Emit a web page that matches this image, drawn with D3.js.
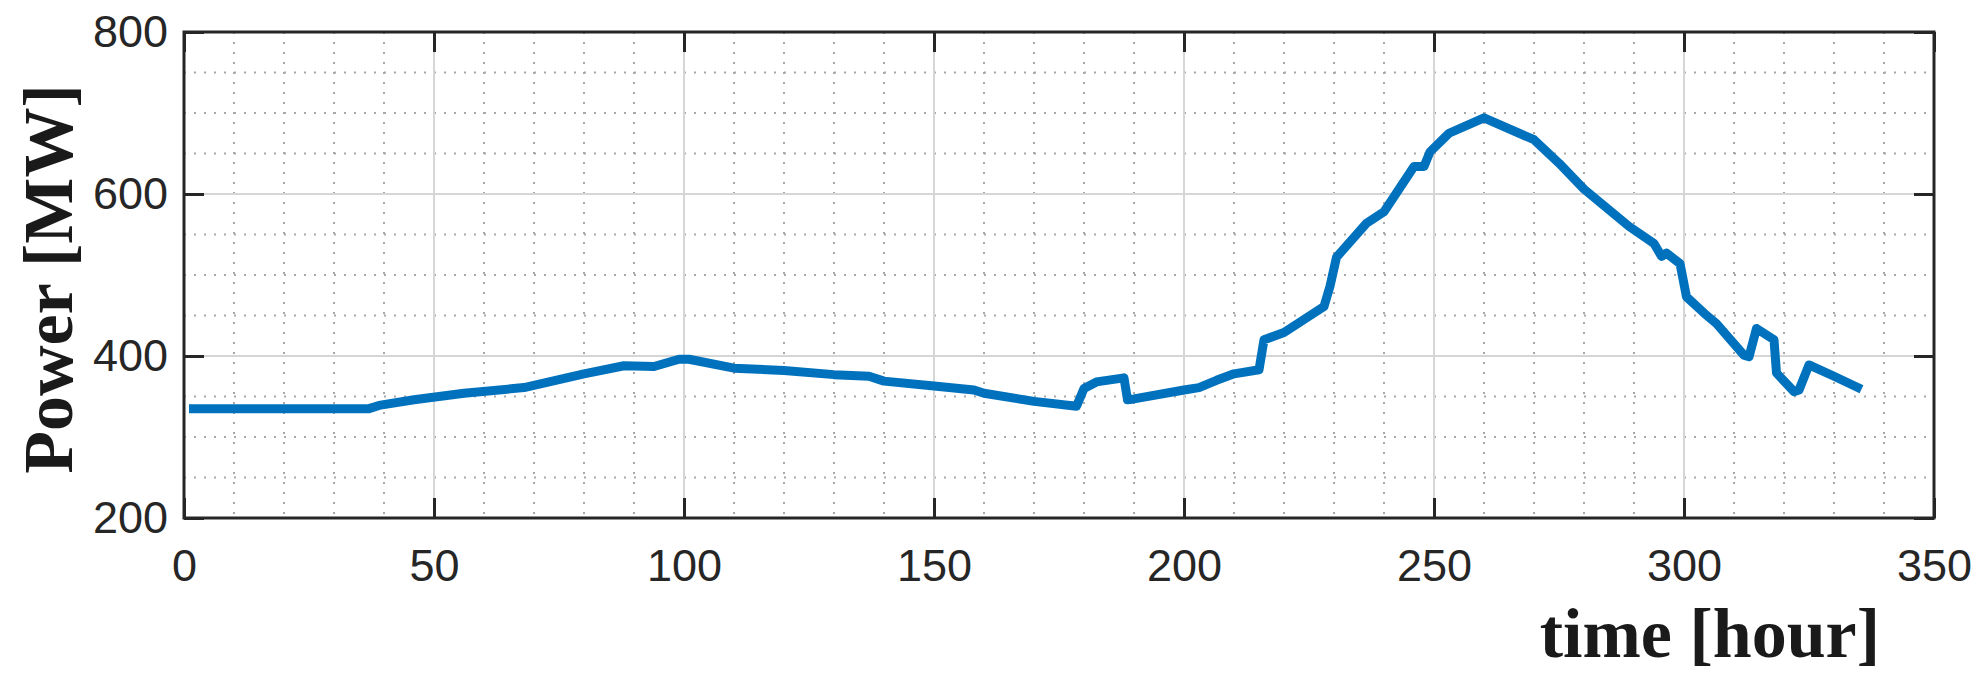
<!DOCTYPE html>
<html>
<head>
<meta charset="utf-8">
<script src="https://cdn.jsdelivr.net/npm/d3@7"></script>
<style>
  body { margin: 0; background: #fff; }
  svg { display: block; }
</style>
</head>
<body>
<svg width="1984" height="684"></svg>
<script>
// data
var hours = [1, 37, 39, 46, 56, 68, 80, 88, 94, 99, 101, 110, 120, 130, 137, 140, 150, 158, 160, 170,
    178.5, 180, 182.5, 188, 188.7, 190, 200, 203, 206.5, 210, 215, 216, 220, 228, 229.2, 230.5,
    236.5, 240, 246, 248, 249.2, 253, 260, 270, 275, 280, 289, 294, 295.5, 296.5, 299.2, 300.5,
    304, 306.5, 312, 313, 314.5, 318, 318.5, 322, 323, 325, 330, 335.5];
var power = [335, 335, 339, 346, 354, 361, 378, 388, 387, 396, 396, 385, 382, 377, 375, 369, 363, 358, 354, 344,
    338, 360, 368, 373, 346, 347, 358, 361, 370, 378, 383, 420, 429, 461, 486, 522,
    564, 578, 634, 634, 652, 675, 694, 667, 638, 606, 560, 539, 523, 527, 514, 473,
    453, 440, 401, 399, 434, 420, 379, 356, 358, 389, 375, 359];

var xTicks = [0, 50, 100, 150, 200, 250, 300, 350];
var yTicks = [200, 400, 600, 800];
var xMinor = d3.range(0, 351, 10);
var yMinor = d3.range(200, 801, 50);

// plot box (note: "top" is taken by window.top, so prefix these)
var svg = d3.select("svg"),
    pLeft = 184, pRight = 1934, pTop = 32, pBottom = 518;

var x = d3.scaleLinear().domain([0, 350]).range([pLeft, pRight]);
var y = d3.scaleLinear().domain([200, 800]).range([pBottom, pTop]);

var axisColor = "#262626";

// minor grid (dotted)
svg.append("g").selectAll("line")
    .data(xMinor.filter(function (d) { return d % 50 != 0; }))
    .enter().append("line")
    .attr("x1", function (d) { return x(d); }).attr("x2", function (d) { return x(d); })
    .attr("y1", pTop).attr("y2", pBottom)
    .attr("stroke", "#a8a8a8").attr("stroke-width", 2).attr("stroke-dasharray", "2,8");
svg.append("g").selectAll("line")
    .data(yMinor.filter(function (d) { return d % 200 != 0; }))
    .enter().append("line")
    .attr("y1", function (d) { return y(d); }).attr("y2", function (d) { return y(d); })
    .attr("x1", pLeft).attr("x2", pRight)
    .attr("stroke", "#a8a8a8").attr("stroke-width", 2).attr("stroke-dasharray", "2,8");

// major grid
svg.append("g").selectAll("line")
    .data(xTicks)
    .enter().append("line")
    .attr("x1", function (d) { return x(d); }).attr("x2", function (d) { return x(d); })
    .attr("y1", pTop).attr("y2", pBottom)
    .attr("stroke", "#d6d6d6").attr("stroke-width", 2);
svg.append("g").selectAll("line")
    .data(yTicks)
    .enter().append("line")
    .attr("y1", function (d) { return y(d); }).attr("y2", function (d) { return y(d); })
    .attr("x1", pLeft).attr("x2", pRight)
    .attr("stroke", "#d6d6d6").attr("stroke-width", 2);

// power line
var line = d3.line()
    .x(function (d, i) { return x(hours[i]); })
    .y(function (d) { return y(d); });

svg.append("path")
    .datum(power)
    .attr("d", line)
    .attr("fill", "none")
    .attr("stroke", "#0072BD")
    .attr("stroke-width", 9)
    .attr("stroke-linejoin", "round")
    .attr("stroke-linecap", "butt");

// axes, ticks pointing in
function styleAxis(g) {
    g.select(".domain").remove();
    g.selectAll(".tick line").attr("stroke", axisColor).attr("stroke-width", 3);
    g.selectAll(".tick text")
        .attr("fill", axisColor)
        .style("font-family", "'Liberation Sans', Arial, sans-serif")
        .style("font-size", "45px");
}

svg.append("g")
    .attr("transform", "translate(0," + pBottom + ")")
    .call(d3.axisBottom(x).tickValues(xTicks).tickSizeInner(-20).tickSizeOuter(0).tickPadding(31))
    .call(styleAxis);
svg.append("g")
    .attr("transform", "translate(0," + pTop + ")")
    .call(d3.axisTop(x).tickValues(xTicks).tickSizeInner(-20).tickSizeOuter(0).tickFormat(""))
    .call(styleAxis);
svg.append("g")
    .attr("transform", "translate(" + pLeft + ",0)")
    .call(d3.axisLeft(y).tickValues(yTicks).tickSizeInner(-20).tickSizeOuter(0).tickPadding(16))
    .call(styleAxis);
svg.append("g")
    .attr("transform", "translate(" + pRight + ",0)")
    .call(d3.axisRight(y).tickValues(yTicks).tickSizeInner(-20).tickSizeOuter(0).tickFormat(""))
    .call(styleAxis);

// box
svg.append("rect")
    .attr("x", pLeft).attr("y", pTop)
    .attr("width", pRight - pLeft).attr("height", pBottom - pTop)
    .attr("fill", "none")
    .attr("stroke", axisColor)
    .attr("stroke-width", 3);

// axis labels
svg.append("text")
    .attr("transform", "translate(72," + ((pTop + pBottom) / 2 + 4) + ") rotate(-90)")
    .attr("text-anchor", "middle")
    .style("font-family", "'Liberation Serif', 'Times New Roman', serif")
    .style("font-weight", "bold")
    .style("font-size", "70px")
    .attr("fill", "#1a1a1a")
    .text("Power [MW]");

svg.append("text")
    .attr("x", 1880)
    .attr("y", 657)
    .attr("text-anchor", "end")
    .style("font-family", "'Liberation Serif', 'Times New Roman', serif")
    .style("font-weight", "bold")
    .style("font-size", "70px")
    .attr("fill", "#1a1a1a")
    .text("time [hour]");
</script>
</body>
</html>
